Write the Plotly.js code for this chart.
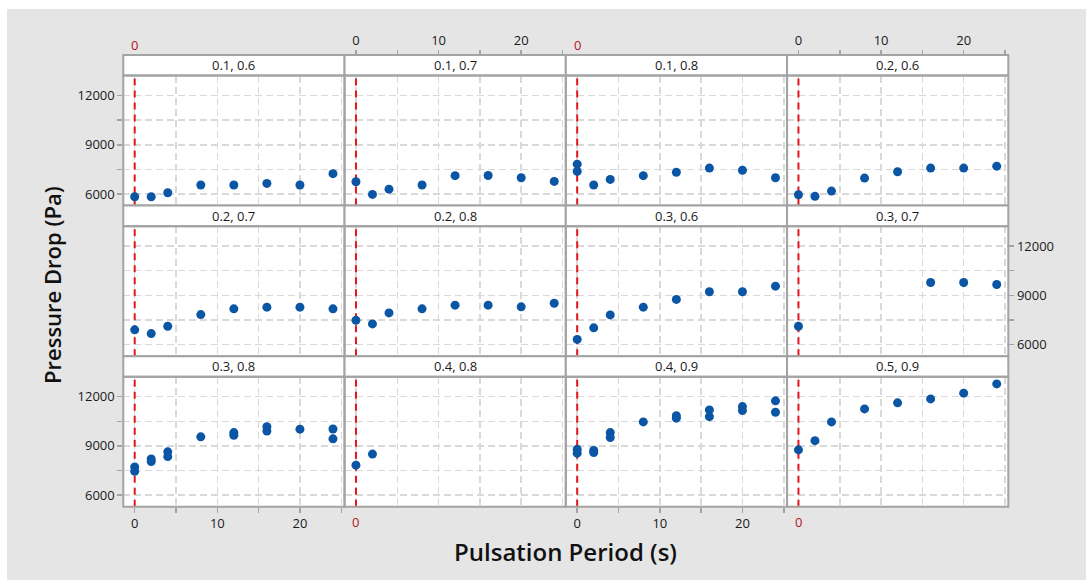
<!DOCTYPE html>
<html>
<head>
<meta charset="utf-8">
<script src="https://cdn.plot.ly/plotly-3.0.1.min.js"></script>
<style>
html,body{margin:0;padding:0;background:#ffffff;}
#chart{position:absolute;left:7px;top:9px;width:1079px;height:571px;}
</style>
</head>
<body>
<div id="chart"></div>
<script>
// ---------- data ----------
const panelLabels = ['0.1, 0.6','0.1, 0.7','0.1, 0.8','0.2, 0.6',
                     '0.2, 0.7','0.2, 0.8','0.3, 0.6','0.3, 0.7',
                     '0.3, 0.8','0.4, 0.8','0.4, 0.9','0.5, 0.9'];
const period8 = [0,2,4,8,12,16,20,24];

const x_01_06 = period8;
const y_01_06 = [5840,5840,6080,6550,6550,6650,6550,7240];
const x_01_07 = period8;
const y_01_07 = [6750,5980,6300,6550,7120,7130,6990,6770];
const x_01_08 = [0,0,2,4,8,12,16,20,24];
const y_01_08 = [7820,7380,6550,6890,7120,7330,7580,7450,6990];
const x_02_06 = period8;
const y_02_06 = [5960,5860,6180,6970,7360,7580,7580,7700];
const x_02_07 = period8;
const y_02_07 = [6900,6670,7120,7830,8180,8280,8280,8180];
const x_02_08 = period8;
const y_02_08 = [7480,7260,7930,8180,8400,8400,8300,8520];
const x_03_06 = period8;
const y_03_06 = [6320,7020,7810,8280,8750,9220,9220,9560];
const x_03_07 = [0,16,20,24];
const y_03_07 = [7120,9780,9780,9660];
const x_03_08 = [0,0,2,2,4,4,8,12,12,16,16,20,24,24];
const y_03_08 = [7720,7450,8210,8050,8640,8350,9550,9810,9650,10170,9900,10020,10030,9430];
const x_04_08 = [0,2];
const y_04_08 = [7830,8500];
const x_04_09 = [0,0,2,2,4,4,8,12,12,16,16,20,20,24,24];
const y_04_09 = [8800,8560,8720,8600,9810,9510,10460,10840,10690,11190,10780,11390,11150,11740,11050];
const x_05_09 = period8;
const y_05_09 = [8760,9320,10460,11250,11620,11860,12210,12770];

const panelX = [x_01_06,x_01_07,x_01_08,x_02_06,x_02_07,x_02_08,x_03_06,x_03_07,x_03_08,x_04_08,x_04_09,x_05_09];
const panelY = [y_01_06,y_01_07,y_01_08,y_02_06,y_02_07,y_02_08,y_03_06,y_03_07,y_03_08,y_04_08,y_04_09,y_05_09];

const xTickVals = [0,5,10,15,20,25];
const xTickText = ['0','','10','','20',''];
const yTickVals = [6000,7500,9000,10500,12000];
const yTickText = ['6000','','9000','','12000'];
const xRange = [-1.38, 25.4];
const yRange = [5300, 13210];
const refLineX = 0;

// ---------- layout geometry (pixels in the chart div) ----------
const W = 1079, H = 571;
const offX = 7, offY = 9;
const colLeft = 123.3 - offX, colW = 221.25;
const rowTop = 55 - offY, cellH = 150.57, stripH = 20.57, dataH = 130;
const fx = px => px / W;
const fy = py => 1 - py / H;

const FONT = 'Open Sans, Noto Sans, sans-serif';
const gridCol = '#d9d9d9';
const borderCol = '#a3a3a3';
const redCol = '#e3141b';
const tickFont = {family: FONT, size: 13, color: '#1a1a1a'};

const layout = {
  width: W, height: H,
  margin: {l:0, r:0, t:0, b:0, pad:0},
  paper_bgcolor: '#e5e5e5',
  plot_bgcolor: '#ffffff',
  showlegend: false,
  font: {family: FONT, size: 12, color: '#1a1a1a'},
  shapes: [], annotations: []
};
const refTraces = [];
const dataTraces = [];

for (let i = 0; i < 12; i++) {
  const r = Math.floor(i / 4), c = i % 4;
  const n = i + 1;
  const xid = n === 1 ? 'x' : 'x' + n;
  const yid = n === 1 ? 'y' : 'y' + n;
  const xk = n === 1 ? 'xaxis' : 'xaxis' + n;
  const yk = n === 1 ? 'yaxis' : 'yaxis' + n;
  const x0 = colLeft + c * colW, x1 = x0 + colW;
  const sTop = rowTop + r * cellH, sBot = sTop + stripH, dBot = sBot + dataH;

  const xa = {
    domain: [fx(x0), fx(x1)], range: xRange, anchor: yid,
    tickmode: 'array', tickvals: xTickVals, ticktext: xTickText,
    showgrid: true, gridcolor: gridCol, gridwidth: 1.5, griddash: '7px,4px',
    zeroline: false, showline: false, ticks: '', showticklabels: false,
    tickfont: tickFont, ticklen: 5, tickwidth: 1.5, tickcolor: borderCol, fixedrange: true
  };
  if (r === 0 && (c === 1 || c === 3)) {
    xa.side = 'top'; xa.anchor = 'free'; xa.position = fy(sTop);
    xa.ticks = 'outside'; xa.showticklabels = true;
  }
  if (r === 2 && (c === 0 || c === 2)) {
    xa.side = 'bottom'; xa.ticks = 'outside'; xa.showticklabels = true;
  }
  const ya = {
    domain: [fy(dBot), fy(sBot)], range: yRange, anchor: xid,
    tickmode: 'array', tickvals: yTickVals, ticktext: yTickText,
    showgrid: true, gridcolor: gridCol, gridwidth: 1.5, griddash: '7px,4px',
    zeroline: false, showline: false, ticks: '', showticklabels: false,
    tickfont: tickFont, ticklen: 5, tickwidth: 1.5, tickcolor: borderCol, fixedrange: true
  };
  if ((r === 0 || r === 2) && c === 0) {
    ya.side = 'left'; ya.ticks = 'outside'; ya.showticklabels = true;
  }
  if (r === 1 && c === 3) {
    ya.side = 'right'; ya.ticks = 'outside'; ya.showticklabels = true;
  }
  layout[xk] = xa; layout[yk] = ya;

  // reference line at x = 0 (drawn under the markers)
  refTraces.push({
    type: 'scatter', mode: 'lines', x: [refLineX, refLineX], y: yRange,
    xaxis: xid, yaxis: yid, hoverinfo: 'skip', cliponaxis: true,
    line: {color: redCol, width: 2, dash: '7px,5px'}
  });
  dataTraces.push({
    type: 'scatter', mode: 'markers', x: panelX[i], y: panelY[i],
    xaxis: xid, yaxis: yid,
    marker: {color: '#0b56a4', size: 9, line: {width: 0}},
    hoverinfo: 'x+y'
  });

  // strip
  layout.shapes.push({
    type: 'rect', xref: 'paper', yref: 'paper',
    x0: fx(x0), x1: fx(x1), y0: fy(sBot), y1: fy(sTop),
    fillcolor: '#ffffff', line: {color: borderCol, width: 2}, layer: 'above'
  });
  // panel border
  layout.shapes.push({
    type: 'rect', xref: 'paper', yref: 'paper',
    x0: fx(x0), x1: fx(x1), y0: fy(dBot), y1: fy(sBot),
    fillcolor: 'rgba(0,0,0,0)', line: {color: borderCol, width: 2}, layer: 'above'
  });
  layout.annotations.push({
    xref: 'paper', yref: 'paper', x: fx((x0 + x1) / 2), y: fy((sTop + sBot) / 2),
    text: panelLabels[i], showarrow: false, xanchor: 'center', yanchor: 'middle',
    font: {family: FONT, size: 13, color: '#1a1a1a'}
  });
  // reference-line labels on the sides without tick labels
  if (r === 0 && (c === 0 || c === 2)) {
    layout.annotations.push({
      xref: xid, yref: 'paper', x: refLineX, y: fy(44.7 - offY),
      text: '0', showarrow: false, xanchor: 'center', yanchor: 'middle',
      font: {family: FONT, size: 13, color: '#b5121b'}
    });
  }
  if (r === 2 && (c === 1 || c === 3)) {
    layout.annotations.push({
      xref: xid, yref: 'paper', x: refLineX, y: fy(522 - offY),
      text: '0', showarrow: false, xanchor: 'center', yanchor: 'middle',
      font: {family: FONT, size: 13, color: '#b5121b'}
    });
  }
}

layout.annotations.push({
  xref: 'paper', yref: 'paper', x: fx(52 - offX), y: fy(285 - offY),
  text: 'Pressure Drop (Pa)', textangle: -90, showarrow: false,
  xanchor: 'center', yanchor: 'middle',
  font: {family: FONT, size: 22, color: '#111111', weight: 600}
});
layout.annotations.push({
  xref: 'paper', yref: 'paper', x: fx(565.8 - offX), y: fy(551 - offY),
  text: 'Pulsation Period (s)', showarrow: false,
  xanchor: 'center', yanchor: 'middle',
  font: {family: FONT, size: 24, color: '#111111', weight: 600}
});

Plotly.newPlot('chart', refTraces.concat(dataTraces), layout, {displayModeBar: false, staticPlot: true});
</script>
</body>
</html>
